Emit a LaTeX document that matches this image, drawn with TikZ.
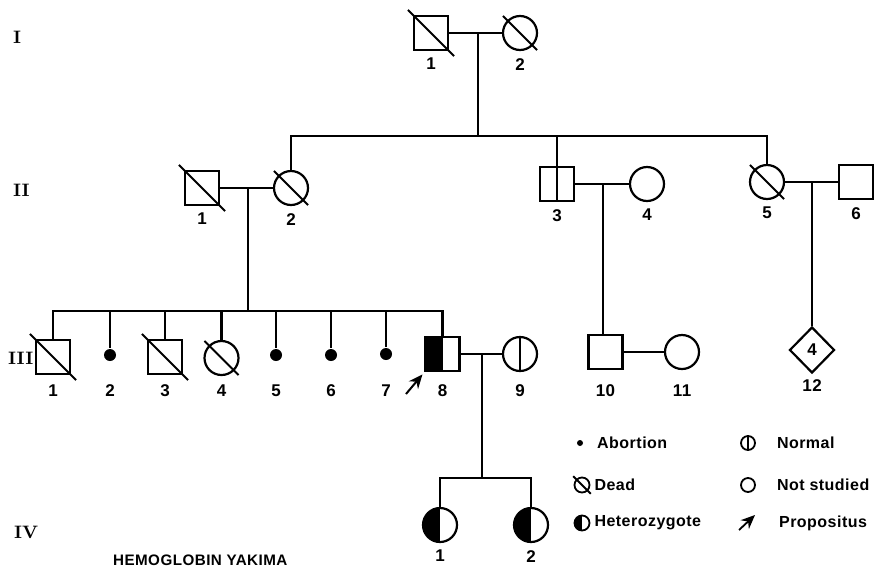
\documentclass[tikz,border=0pt]{standalone}
\usepackage{fontspec}
\newfontfamily\lettering[LetterSpace=3]{Liberation Sans}
\usepackage{tikz}
\usetikzlibrary{shapes.geometric, arrows.meta, positioning, calc}
\tikzstyle{male} = [rectangle, draw, minimum size=17pt, inner sep=0pt]
\tikzstyle{female} = [circle, draw, minimum size=17pt, inner sep=0pt]
\tikzstyle{abortion} = [circle, fill, minimum size=6pt, inner sep=0pt]
\tikzstyle{sexunk} = [diamond, draw, minimum width=22.5pt, minimum height=23pt, inner sep=0pt, font=\lettering\bfseries\fontsize{8.5}{9}\selectfont]
\tikzstyle{idx} = [inner sep=0pt, font=\lettering\bfseries\fontsize{8.5}{9}\selectfont]
\tikzstyle{genlabel} = [inner sep=0pt, anchor=west, font=\bfseries\fontsize{9}{10}\selectfont]
\tikzstyle{legtext} = [inner sep=0pt, font=\lettering\bfseries\fontsize{8}{9}\selectfont]
\tikzstyle{propo} = [line width=1pt, -{Stealth[length=7pt, width=6pt]}]
\tikzset{
  dead/.style={append after command={(\tikzlastnode.north west) edge[line width=1pt, shorten <=-#1, shorten >=-#1] (\tikzlastnode.south east)}},
  dead/.default=3pt,
  hetero/.style={path picture={\fill (path picture bounding box.south west) rectangle (path picture bounding box.north);}},
  normalsym/.style={path picture={\draw[line width=1pt] (path picture bounding box.north) -- (path picture bounding box.south);}}
}
\begin{document}
\begin{tikzpicture}[x=0.5pt, y=-0.5pt, line width=1.1pt, node distance=3pt]
  \useasboundingbox (0,0) rectangle (876,568);

  % generation labels
  \node[genlabel] (gI) at (12,37) {I};
  \node[genlabel] (gII) at (12,190) {II};
  \node[genlabel] (gIII) at (7,358) {III};
  \node[genlabel] (gIV) at (13,532) {IV};

  % generation I
  \node[male, dead=3.5pt] (i1) at (431,33) {};
  \node[female, dead] (i2) at (520,33) {};
  \node[idx, below=of i1] (ni1) {1};
  \node[idx, below=of i2] (ni2) {2};

  % generation II
  \node[male, dead=3.5pt] (ii1) at (202,188) {};
  \node[female, dead] (ii2) at (291,188) {};
  \node[male, normalsym] (ii3) at (557,184) {};
  \node[female] (ii4) at (647,184) {};
  \node[female, dead] (ii5) at (767,182) {};
  \node[male] (ii6) at (856,182) {};
  \foreach \n in {1,...,6}
    \node[idx, below=of ii\n] (nii\n) {\n};

  % generation III
  \node[male, dead=3.5pt] (iii1) at (53,357) {};
  \node[abortion] (iii2) at (110,355) {};
  \node[male, dead=3.5pt] (iii3) at (165,357) {};
  \node[female, dead] (iii4) at (221.5,358) {};
  \node[abortion] (iii5) at (276,355) {};
  \node[abortion] (iii6) at (331,355) {};
  \node[abortion] (iii7) at (386,354) {};
  \node[male, hetero] (iii8) at (442.5,354) {};
  \node[female, normalsym] (iii9) at (520,354) {};
  \node[male] (iii10) at (605.5,352) {};
  \node[female] (iii11) at (682,352) {};
  \node[sexunk] (iii12) at (812,350) {4};
  \node[idx, below=4.5pt of iii1] (niii1) {1};
  \foreach \n in {2,...,11}
    \node[idx] (niii\n) at (niii1 -| iii\n) {\n};
  \node[idx, below=2pt of iii12] (niii12) {12};

  % generation IV
  \node[female, hetero] (iv1) at (440,525) {};
  \node[female, hetero] (iv2) at (531,525) {};
  \node[idx, below=of iv1] (niv1) {1};
  \node[idx, below=of iv2] (niv2) {2};

  % marriages and sibships
  \coordinate (sI) at (478,136);
  \coordinate (sII) at (248,311);
  \coordinate (sIII) at (482,478);
  \draw (i1) -- (i2);
  \draw (sI |- i1) -- (sI);
  \draw (ii2.north) |- (sI) -| (ii5.north);
  \draw (ii3.north) -- (ii3.north |- sI);

  \draw (ii1) -- (ii2);
  \draw (sII |- ii1) -- (sII);
  \draw (iii1.north) |- (sII) -| (iii8.north);
  \foreach \n in {2,...,7}
    \draw (iii\n) -- (iii\n |- sII);

  \draw (ii3) -- (ii4) coordinate[pos=0.52] (mb);
  \draw (mb) -- (mb |- iii10.north);
  \draw (ii5) -- (ii6);
  \draw (iii12.north |- ii6) -- (iii12.north);

  \draw (iii8) -- (iii9);
  \draw (sIII |- iii8) -- (sIII);
  \draw (iv1.north) |- (sIII) -| (iv2.north);
  \draw (iii10) -- (iii11);

  % propositus
  \coordinate (pa) at (406,394);
  \draw[propo, shorten >=1.5pt] (pa) -- (iii8.south west);

  % key
  \node[abortion, minimum size=3pt] (la) at (580,443) {};
  \node[legtext, right=6pt of la] (lta) {Abortion};
  \node[female, minimum size=7.5pt, line width=0.9pt, dead=2pt] (ld) at (582,485) {};
  \node[legtext, right=1.5pt of ld] (ltd) {Dead};
  \node[female, minimum size=7.5pt, line width=0.9pt, hetero] (lh) at (582,523) {};
  \node[legtext, right=1.5pt of lh] (lth) {Heterozygote};
  \node[female, minimum size=7pt, line width=0.9pt, normalsym] (ln) at (748,443) {};
  \node[legtext, right=10pt of ln] (ltn) {Normal};
  \node[female, minimum size=7pt, line width=0.9pt] (lns) at (748,485) {};
  \node[legtext, right=10pt of lns] (ltns) {Not studied};
  \coordinate (lp1) at (739,530);
  \coordinate (lp2) at (755,515);
  \draw[propo, line width=0.9pt] (lp1) -- (lp2);
  \node[legtext, anchor=west] (ltp) at (778,523) {Propositus};

  \node[legtext, anchor=west, font=\lettering\bfseries\fontsize{7.6}{9}\selectfont] (title) at (112,560) {HEMOGLOBIN YAKIMA};
\end{tikzpicture}
\end{document}
